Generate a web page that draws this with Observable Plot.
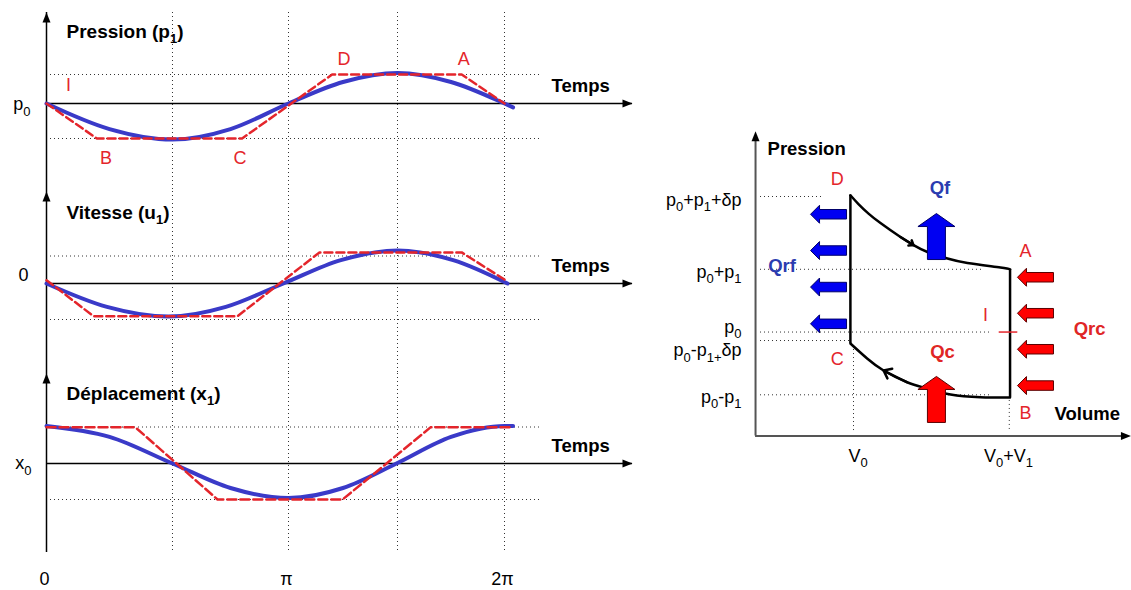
<!DOCTYPE html>
<html><head><meta charset="utf-8">
<script src="https://cdn.jsdelivr.net/npm/d3@7"></script>
<script src="https://cdn.jsdelivr.net/npm/@observablehq/plot@0.6"></script>
<style>
html,body{margin:0;padding:0;background:#fff;}
#chart{position:relative;width:1131px;height:590px;overflow:hidden;font-family:"Liberation Sans",Arial,sans-serif;}
#chart svg{position:absolute;background:transparent;overflow:visible;}
</style></head><body><div id="chart"></div>
<script>
// ---------------- data (time in units of π) ----------------
const tickValues = [0, 1, 2];
const tickLabels = ["0", "π", "2π"];
const gridTimes = [0.5, 1, 1.5, 2];
const guideLevels = [-1, 1];

const pressureT = [0, 0.25, 0.5, 0.75, 1, 1.25, 1.5, 1.75, 2, 2.04];
const pressureV = [0, -0.73, -1.03, -0.73, 0, 0.74, 1.05, 0.74, 0, -0.11];
const pressureStepT = [0, 0.2, 0.8, 1.2, 1.8, 2];
const pressureStepV = [0, -1, -1, 1, 1, 0];

const velocityT = [0, 0.24, 0.484, 0.73, 0.978, 1.24, 1.5, 1.76, 2.014];
const velocityV = [0, -0.65, -0.92, -0.65, 0, 0.85, 1.2, 0.85, 0];
const velocityStepT = [0, 0.187, 0.78, 1.142, 1.8, 2.015];
const velocityStepV = [0.12, -0.91, -0.91, 1.13, 1.13, 0.07];

const displacementT = [0, 0.25, 0.5, 0.75, 1, 1.25, 1.495, 1.75, 2, 2.04];
const displacementV = [1.03, 0.73, 0, -0.68, -0.96, -0.68, 0, 0.73, 1.03, 1.03];
const displacementStepT = [0, 0.353, 0.694, 1.248, 1.654, 2.04];
const displacementStepV = [0.99, 0.99, -1, -1, 0.99, 0.99];

const cyclePointLabels = ["I", "B", "C", "D", "A"];

// right diagram: volume in units (V0 = 1, V0+V1 = 2), pressure in units of p1 around p0
const pLevels = [2.16, 1, 0, -0.135, -1];
const pLabels = ["p{0}+p{1}+δp", "p{0}+p{1}", "p{0}", "p{0}-p{1+}δp", "p{0}-p{1}"];
const vLevels = [1, 2];
const vLabels = ["V{0}", "V{0}+V{1}"];
const curveDA_V = [0.98, 1.032, 1.097, 1.174, 1.303, 1.387, 1.477, 1.606, 1.735, 1.948, 2.01];
const curveDA_P = [2.18, 2.04, 1.888, 1.737, 1.514, 1.386, 1.275, 1.171, 1.10, 1.028, 1.0];
const curveCB_V = [0.98, 1.088, 1.194, 1.346, 1.475, 1.626, 1.819, 2.01];
const curveCB_P = [-0.183, -0.422, -0.613, -0.80, -0.90, -0.996, -1.039, -1.044];
const qrfLevels = [1.877, 1.299, 0.717, 0.131];
const qrcLevels = [0.873, 0.30, -0.274, -0.853];
const qfLevel = 1.522;
const qcLevel = -1.074;

// ---------------- styles ----------------
const FONT = '"Liberation Sans", Arial, sans-serif';
const RED = "#e4252b";
const BLUE = "#3a3ac8";
const QBLUE = "#2b3cb0";
const QRED = "#e02626";
const dotted = {stroke: "#333", strokeWidth: 1, strokeDasharray: "1,3"};

const triUp = {draw(c) { c.moveTo(0, 0); c.lineTo(4, 10); c.lineTo(-4, 10); c.closePath(); }};
const triRight = {draw(c) { c.moveTo(0, 0); c.lineTo(-10, -4); c.lineTo(-10, 4); c.closePath(); }};
function leftArrow(L, bh, hh, hl) {
  return {draw(c) {
    const h = L / 2;
    c.moveTo(-h, 0); c.lineTo(-h + hl, -hh / 2); c.lineTo(-h + hl, -bh / 2);
    c.lineTo(h, -bh / 2); c.lineTo(h, bh / 2); c.lineTo(-h + hl, bh / 2);
    c.lineTo(-h + hl, hh / 2); c.closePath();
  }};
}
function upArrow(L, bw, hw, hl) {
  return {draw(c) {
    const h = L / 2;
    c.moveTo(0, -h); c.lineTo(hw / 2, -h + hl); c.lineTo(bw / 2, -h + hl);
    c.lineTo(bw / 2, h); c.lineTo(-bw / 2, h); c.lineTo(-bw / 2, -h + hl);
    c.lineTo(-hw / 2, -h + hl); c.closePath();
  }};
}

const chart = document.getElementById("chart");
const zip = (a, b) => a.map((t, i) => ({t, v: b[i]}));

// the hand-drawn time axis is not quite uniform: π/2, π, 3π/2 sit at these fractions of [0, 2π]
const timeWarp = d3.scaleLinear().domain([0, 0.5, 1, 1.5, 2]).range([0, 0.5502, 1.0568, 1.5328, 2]);

function panel(o) {
  const blue = zip(o.blueT, o.blueV);
  const red = zip(o.redT, o.redV);
  const [yb, yz, yt] = o.yRange;
  const valueWarp = d3.scaleLinear().domain([-1, 0, 1]).range([-1, 2 * (yb - yz) / (yb - yt) - 1, 1]);
  const marks = [
    Plot.ruleX(gridTimes, {x: d => d, ...dotted}),
    Plot.ruleY(guideLevels, {y: d => d, x1: 0, x2: 2.17, ...dotted}),
    Plot.ruleX([0], {x: d => d, stroke: "#000", strokeWidth: 1.5}),
    Plot.ruleY([0], {y: d => d, stroke: "#000", strokeWidth: 1.5}),
    Plot.dot([0], {x: 0, frameAnchor: "top", symbol: triUp, fill: "#000"}),
    Plot.dot([0], {y: 0, frameAnchor: "right", symbol: triRight, fill: "#000"}),
    Plot.line(blue, {x: "t", y: "v", stroke: BLUE, strokeWidth: 4, curve: "monotone-x"}),
    Plot.line(red, {x: "t", y: "v", stroke: RED, strokeWidth: 2.5, strokeDasharray: o.dash || "8,4"}),
    Plot.text([o.title], {x: 0, y: 0, dx: 20, dy: o.titleDy, text: d => d, textAnchor: "start", lineAnchor: "middle", fontWeight: "bold", fontSize: 19, fill: "#000"}),
    Plot.text(["Temps"], {x: 2.22, y: 0, dy: -17, text: d => d, textAnchor: "start", lineAnchor: "middle", fontWeight: "bold", fontSize: 18.5, fill: "#000"}),
    Plot.text([o.zero], {x: 0, y: 0, dx: o.zeroDx, dy: o.zeroDy, text: d => d, textAnchor: "end", lineAnchor: "middle", fontSize: 18, fill: "#000"})
  ];
  if (o.extra) marks.push(...o.extra);
  const svg = Plot.plot({
    width: 632, height: o.height,
    marginLeft: 46, marginRight: 0, marginTop: o.marginTop || 0, marginBottom: o.marginBottom || 0,
    x: {domain: [0, 2], range: [46, 504], transform: timeWarp, axis: null},
    y: {domain: [-1, 1], range: [yb, yt], transform: valueWarp, axis: null},
    style: {fontFamily: FONT, fontSize: "18px", background: "transparent", overflow: "visible"},
    marks
  });
  svg.style.left = "0px";
  svg.style.top = o.top + "px";
  chart.appendChild(svg);
}

// Panel 1 : pressure
const labelOffsets = [[0, 0, 22, -18], [0.2, -1, 9, 20], [0.8, -1, -2, 20], [1.2, 1, 12, -15], [1.8, 1, 2, -15]];
panel({
  top: 0, height: 191, marginTop: 12, yRange: [138, 103, 74],
  title: "Pression (p{1})", titleDy: -72, zero: "p{0}", zeroDx: -16, zeroDy: 1,
  blueT: pressureT, blueV: pressureV, redT: pressureStepT, redV: pressureStepV,
  extra: cyclePointLabels.map((s, i) => Plot.text([s], {
    x: labelOffsets[i][0], y: labelOffsets[i][1], dx: labelOffsets[i][2], dy: labelOffsets[i][3],
    text: d => d, fill: RED, fontSize: 18, lineAnchor: "middle"
  }))
});
// Panel 2 : velocity
panel({
  top: 191, height: 182, yRange: [128, 92, 64.5],
  title: "Vitesse (u{1})", titleDy: -71, zero: "0", zeroDx: -18, zeroDy: -8,
  blueT: velocityT, blueV: velocityV, redT: velocityStepT, redV: velocityStepV
});
// Panel 3 : displacement
panel({
  top: 373, height: 217, marginBottom: 38, yRange: [126, 90, 53.5],
  title: "Déplacement (x{1})", titleDy: -70, zero: "x{0}", zeroDx: -15, zeroDy: 0,
  blueT: displacementT, blueV: displacementV, redT: displacementStepT, redV: displacementStepV,
  dash: "9,4",
  extra: [Plot.text(tickValues, {x: d => d, text: (d, i) => tickLabels[i], frameAnchor: "bottom", dy: 27, dx: -2, fontSize: 18, fill: "#000", lineAnchor: "middle"})]
});

// ---------------- right diagram ----------------
const vO = 0.368, pO = -1.657, vEnd = 2.79, pTop = 3.2;
const DA = curveDA_V.map((v, i) => ({v, p: curveDA_P[i]}));
const CB = curveCB_V.map((v, i) => ({v, p: curveCB_P[i]}));
const nDA = DA.length - 1, nCB = CB.length - 1;
const right = Plot.plot({
  width: 491, height: 590, margin: 0,
  x: {domain: [1, 2], range: [213, 368], axis: null},
  y: {domain: [-1, 2.16], range: [394.3, 196], axis: null},
  style: {fontFamily: FONT, fontSize: "18px", background: "transparent", overflow: "visible"},
  marks: [
    Plot.ruleY(pLevels, {y: d => d, x1: 0.4, x2: (d, i) => [0.806, 1.84, 1.884, 0.98, 1.884][i], ...dotted}),
    Plot.ruleX(vLevels, {x: (d, i) => [1, 2.005][i], y1: (d, i) => [-0.215, -1.09][i], y2: -1.6, ...dotted}),
    Plot.ruleX([vO], {x: d => d, y1: pO, y2: pTop - 0.1, stroke: "#555", strokeWidth: 2}),
    Plot.ruleY([pO], {y: d => d, x1: vO, x2: vEnd - 0.03, stroke: "#555", strokeWidth: 2}),
    Plot.dot([0], {x: vO, y: pTop, symbol: triUp, fill: "#000"}),
    Plot.dot([0], {x: vEnd, y: pO, symbol: triRight, fill: "#000"}),
    // cycle
    Plot.ruleX([DA[0].v], {x: d => d, y1: CB[0].p, y2: DA[0].p, stroke: "#000", strokeWidth: 2.5}),
    Plot.ruleX([CB[nCB].v], {x: d => d, y1: CB[nCB].p, y2: DA[nDA].p, stroke: "#000", strokeWidth: 2.5}),
    Plot.line(DA, {x: "v", y: "p", curve: "natural", stroke: "#000", strokeWidth: 2.5}),
    Plot.line(CB, {x: "v", y: "p", curve: "natural", stroke: "#000", strokeWidth: 2.5}),
    Plot.arrow([0], {x1: DA[4].v, y1: DA[4].p, x2: DA[5].v, y2: DA[5].p, headLength: 13, headAngle: 75, stroke: "#000", strokeWidth: 2.5}),
    Plot.arrow([0], {x1: CB[3].v, y1: CB[3].p, x2: CB[2].v, y2: CB[2].p, headLength: 13, headAngle: 75, stroke: "#000", strokeWidth: 2.5}),
    Plot.ruleY([0], {y: d => d, x1: 1.94, x2: 2.06, stroke: RED, strokeWidth: 1.5}),
    // heat arrows
    Plot.dot(qrfLevels, {x: 0.839, y: d => d, symbol: leftArrow(36, 9.5, 18, 9), fill: "#0000f2", stroke: "#00006a", strokeWidth: 1}),
    Plot.dot(qrcLevels, {x: 2.174, y: d => d, symbol: leftArrow(36, 9.5, 18, 9), fill: "#ff0000", stroke: "#5a0000", strokeWidth: 1}),
    Plot.dot([qfLevel], {x: 1.535, y: d => d, symbol: upArrow(46, 18, 37, 13), fill: "#0000f2", stroke: "#00006a", strokeWidth: 1}),
    Plot.dot([qcLevel], {x: 1.535, y: d => d, symbol: upArrow(46, 18, 37, 13), fill: "#ff0000", stroke: "#5a0000", strokeWidth: 1}),
    // texts
    Plot.text(pLevels, {x: vO, y: (d, i) => [2.10, 0.953, 0.076, -0.295, -1.04][i], text: (d, i) => pLabels[i], dx: -14, textAnchor: "end", lineAnchor: "middle", fontSize: 18, fill: "#000"}),
    Plot.text(vLevels, {x: (d, i) => [1.03, 2.0][i], y: pO, dy: 20, text: (d, i) => vLabels[i], lineAnchor: "middle", fontSize: 18, fill: "#000"}),
    Plot.text(["Pression"], {x: vO, y: 2.91, dx: 12, text: d => d, textAnchor: "start", lineAnchor: "middle", fontWeight: "bold", fontSize: 18.5, fill: "#000"}),
    Plot.text(["Volume"], {x: 2.297, y: -1.30, text: d => d, textAnchor: "start", lineAnchor: "middle", fontWeight: "bold", fontSize: 18.5, fill: "#000"}),
    Plot.text(["D", "A", "C", "B", "I"], {x: (d, i) => [0.895, 2.11, 0.895, 2.11, 1.852][i], y: (d, i) => [2.43, 1.29, -0.44, -1.30, 0.263][i], text: d => d, lineAnchor: "middle", fontSize: 18, fill: RED}),
    Plot.text(["Qrf", "Qf"], {x: (d, i) => [0.539, 1.558][i], y: (d, i) => [1.05, 2.29][i], text: d => d, lineAnchor: "middle", fontWeight: "bold", fontSize: 18.5, fill: QBLUE}),
    Plot.text(["Qc", "Qrc"], {x: (d, i) => [1.574, 2.523][i], y: (d, i) => [-0.32, 0.04][i], text: d => d, lineAnchor: "middle", fontWeight: "bold", fontSize: 18.5, fill: QRED})
  ]
});
right.style.left = "640px";
right.style.top = "0px";
chart.appendChild(right);

// subscripts: "{...}" segments become lowered, smaller tspans
function richify(root) {
  root.querySelectorAll("text").forEach(t => {
    const s = t.textContent;
    if (!s.includes("{")) return;
    const fs = parseFloat(getComputedStyle(t).fontSize) || 18;
    const sub = Math.round(fs * 0.7), shift = fs * 0.3;
    while (t.firstChild) t.removeChild(t.firstChild);
    let down = false;
    for (const p of s.split(/(\{[^}]*\})/).filter(Boolean)) {
      const ts = document.createElementNS("http://www.w3.org/2000/svg", "tspan");
      if (p.startsWith("{")) {
        ts.textContent = p.slice(1, -1);
        ts.setAttribute("font-size", sub);
        if (!down) ts.setAttribute("dy", shift);
        down = true;
      } else {
        ts.textContent = p;
        if (down) ts.setAttribute("dy", -shift);
        down = false;
      }
      t.appendChild(ts);
    }
  });
}
richify(chart);
</script></body></html>
